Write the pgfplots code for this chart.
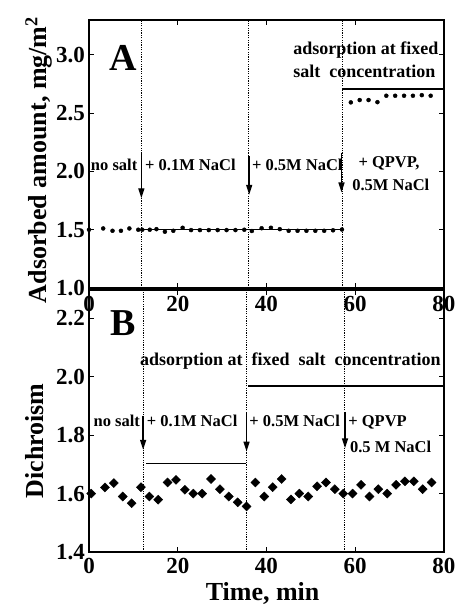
\documentclass[border=0pt]{standalone}
\usepackage{fontspec}
\setmainfont{Liberation Serif}
\usepackage{pgfplots}
\pgfplotsset{compat=1.18}
\usetikzlibrary{arrows.meta}

\newcommand\fs[1]{\fontsize{#1}{#1}\selectfont\bfseries}

\pgfplotsset{
  panel/.style={
    scale only axis, width=355bp,
    xmin=0, xmax=80, xtick={0,20,40,60,80},
    axis line style={line width=1.1bp},
    tick style={line width=0.9bp, black},
    tick align=inside, major tick length=5bp,
    /pgf/number format/assume math mode=true,
    every tick label/.append style={font=\fs{23bp}},
    yticklabel style={inner sep=0pt, xshift=-4bp,
      /pgf/number format/fixed, /pgf/number format/fixed zerofill,
      /pgf/number format/precision=1},
    xticklabel style={inner sep=0pt},
    label style={font=\fs{26bp}},
    clip=false,
  },
}
\tikzset{
  vline/.style={black, line width=0.8bp, dash pattern=on 1.2bp off 1.2bp},
  hline/.style={black, line width=1.4bp},
  arr/.style={-{Triangle[length=10bp,width=6bp]}, line width=1.4bp},
  ann/.style={anchor=base west, inner sep=0pt, font=\fs{16.5bp}},
  annb/.style={anchor=base west, inner sep=0pt, font=\fs{18bp}},
}

\begin{document}
\begin{tikzpicture}

% panel A: adsorbed amount
\begin{axis}[panel,
  at={(89bp,324bp)}, anchor=south west, height=268bp,
  ymin=1, ymax=3.3, ytick={1,1.5,2,2.5,3},
  xticklabel style={yshift=-8bp},
  ylabel={Adsorbed amount, mg/m\textsuperscript{2}},
  ylabel style={at={(axis description cs:-0.142,0.478)}, anchor=center},
]
\draw[vline] (axis cs:11.9,1) -- (axis cs:11.9,3.3);
\draw[vline] (axis cs:35.9,1) -- (axis cs:35.9,3.3);
\draw[vline] (axis cs:57.1,1) -- (axis cs:57.1,3.3);
\draw[hline] (axis cs:11.9,1.5) -- (axis cs:57.5,1.5);
\draw[hline] (axis cs:57.1,2.708) -- (axis cs:80,2.708);

\addplot[only marks, mark=*, mark size=2bp, black] coordinates {
 (0,1.50) (3.2,1.511) (5.3,1.491) (7.2,1.491) (9.1,1.511) (11.1,1.50)
 (12.0,1.50) (13.7,1.50) (15.2,1.505) (17.1,1.483) (19.0,1.491) (21.1,1.517)
 (23,1.497) (25,1.497) (27,1.497) (29,1.497) (31,1.497) (33,1.497) (35,1.50)
 (36.7,1.489) (38.9,1.513) (41.0,1.517) (43,1.505) (45,1.491) (47,1.491)
 (49,1.491) (51,1.491) (53,1.491) (55,1.495) (57,1.502)
};
\addplot[only marks, mark=*, mark size=2bp, black] coordinates {
 (59,2.593) (61,2.613) (63,2.613) (65,2.595) (67,2.65) (69,2.65)
 (71,2.65) (73,2.65) (75,2.655) (77,2.65)
};

\node[font=\fs{38bp}, inner sep=0pt] at (axis cs:7.7,2.97) {A};
\node[annb] at (axis cs:46,3.008) {adsorption at fixed};
\node[annb] at (axis cs:46,2.808) {salt\ \ concentration};
\node[ann] at (axis cs:0.4,2.005) {no salt};
\node[ann] at (axis cs:12.6,2.005) {+ 0.1M NaCl};
\node[ann] at (axis cs:36.7,2.005) {+ 0.5M NaCl};
\node[ann] at (axis cs:60.7,2.03) {+ QPVP,};
\node[ann] at (axis cs:59.3,1.84) {0.5M NaCl};
\draw[arr] (axis cs:11.8,2.155) -- (axis cs:11.8,1.77);
\draw[arr] (axis cs:36.1,2.13) -- (axis cs:36.1,1.80);
\draw[arr] (axis cs:56.9,2.16) -- (axis cs:56.9,1.82);
\end{axis}

% panel B: dichroism
\begin{axis}[panel,
  at={(89bp,60bp)}, anchor=south west, height=262bp,
  ymin=1.4, ymax=2.297, ytick={1.4,1.6,1.8,2.0,2.2},
  xticklabel style={yshift=-6bp},
  xlabel={Time, min},
  xlabel style={at={(axis description cs:0.489,-0.16)}, anchor=center},
  ylabel={Dichroism},
  ylabel style={at={(axis description cs:-0.152,0.424)}, anchor=center},
]
\draw[vline] (axis cs:12.3,1.4) -- (axis cs:12.3,2.297);
\draw[vline] (axis cs:35.5,1.4) -- (axis cs:35.5,2.297);
\draw[vline] (axis cs:57.5,1.4) -- (axis cs:57.5,2.297);
\draw[hline] (axis cs:12.8,1.702) -- (axis cs:35.3,1.702);
\draw[hline] (axis cs:35.9,1.969) -- (axis cs:80,1.969);

\addplot[only marks, mark=square*, mark size=3.2bp, mark options={rotate=45}, black] coordinates {
 (0.5,1.600) (3.6,1.621) (5.6,1.636) (7.6,1.590) (9.6,1.567) (11.7,1.622)
 (13.6,1.590) (15.6,1.579) (17.7,1.638) (19.6,1.647) (21.6,1.613) (23.5,1.600)
 (25.5,1.600) (27.5,1.650) (29.5,1.615) (31.5,1.590) (33.5,1.570) (35.5,1.556)
 (37.5,1.638) (39.5,1.590) (41.4,1.622) (43.4,1.650) (45.5,1.580) (47.4,1.600)
 (49.4,1.590) (51.4,1.625) (53.4,1.638) (55.4,1.615) (57.3,1.600) (59.4,1.600)
 (61.3,1.630) (63.2,1.590) (65.2,1.615) (67.2,1.600) (69.2,1.630) (71.2,1.642)
 (73.2,1.642) (75.2,1.615) (77.2,1.638)
};

\node[font=\fs{38bp}, inner sep=0pt] at (axis cs:7.7,2.182) {B};
\node[annb] at (axis cs:11.5,2.04) {adsorption at\ \ fixed\ \ salt\ \ concentration};
\node[ann] at (axis cs:1.0,1.828) {no salt};
\node[ann] at (axis cs:13.0,1.828) {+ 0.1M NaCl};
\node[ann] at (axis cs:36.1,1.828) {+ 0.5M NaCl};
\node[ann] at (axis cs:58.4,1.828) {+ QPVP};
\node[ann] at (axis cs:58.8,1.739) {0.5 M NaCl};
\draw[arr] (axis cs:12.2,1.864) -- (axis cs:12.2,1.75);
\draw[arr] (axis cs:35.5,1.875) -- (axis cs:35.5,1.744);
\draw[arr] (axis cs:57.7,1.88) -- (axis cs:57.7,1.755);
\end{axis}

\pgfresetboundingbox
\path[use as bounding box] (0,0) rectangle (457bp,612bp);
\end{tikzpicture}
\end{document}
